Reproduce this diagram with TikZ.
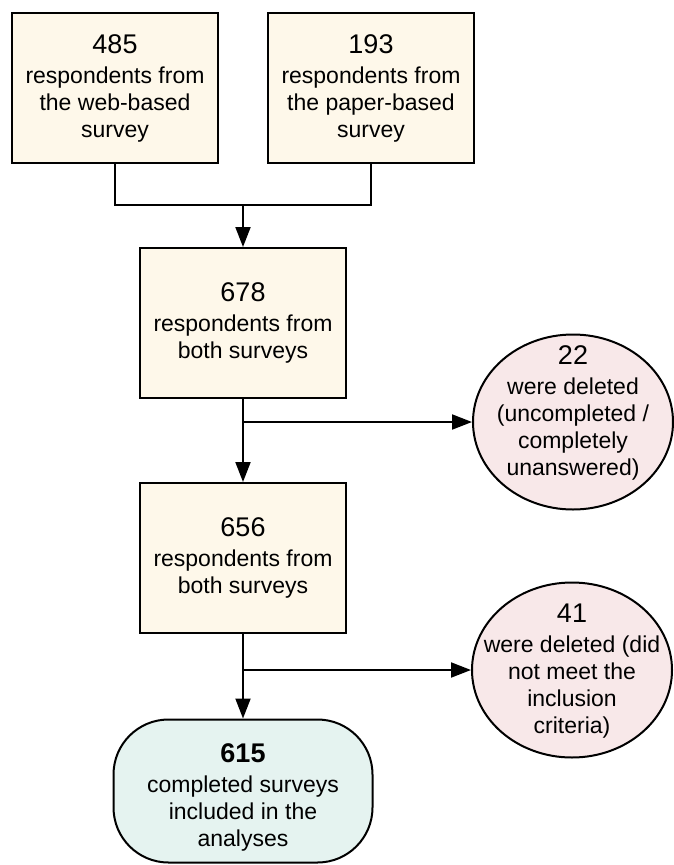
\documentclass[tikz,border=0pt]{standalone}
\usepackage{fontspec}
\setmainfont{Liberation Sans}
\usetikzlibrary{arrows.meta,shapes.geometric}

\definecolor{boxfill}{RGB}{254,248,234}
\definecolor{delfill}{RGB}{248,232,233}
\definecolor{endfill}{RGB}{229,243,240}

\newcommand{\num}[1]{{\fontsize{27}{31}\selectfont #1}\\[3pt]}

\tikzset{
  stepbox/.style={draw,line width=2pt,fill=boxfill,minimum width=206pt,minimum height=150pt,
    inner sep=0pt,align=center,font=\fontsize{23}{27}\selectfont},
  delnode/.style={draw,line width=2pt,fill=delfill,ellipse,minimum width=200pt,minimum height=175pt,inner sep=0pt},
  deltext/.style={align=center,font=\fontsize{23}{27}\selectfont},
  endnode/.style={draw,line width=2pt,fill=endfill,rounded corners=55pt,minimum width=259pt,minimum height=143pt,
    inner sep=0pt,align=center,font=\fontsize{23}{27}\selectfont},
  link/.style={line width=2pt},
  arr/.style={line width=2pt,-{Triangle[length=20pt,width=15pt]}}
}

\begin{document}
\begin{tikzpicture}[x=1pt,y=-1pt]
\useasboundingbox (0,0) rectangle (673,865);

\node[stepbox] (web) at (115,88) {\num{485}respondents from\\the web-based\\survey};
\node[stepbox] (paper) at (371,88) {\num{193}respondents from\\the paper-based\\survey};
\node[stepbox] (both) at (243,323) {\num{678}respondents from\\both surveys};
\node[stepbox] (clean) at (243,558) {\num{656}respondents from\\both surveys};
\node[endnode] (final) at (243,791) {};
\node[deltext] (finalt) at (243,797) {{\fontsize{27}{31}\selectfont\bfseries 615}\\[3pt]completed surveys\\included in the\\analyses};

\node[delnode] (del1) at (573,422) {};
\node[deltext] (del1t) at (573,413) {\num{22}were deleted\\(uncompleted /\\completely\\unanswered)};
\node[delnode] (del2) at (572,670) {};
\node[deltext] (del2t) at (572,671) {\num{41}were deleted (did\\not meet the\\inclusion\\criteria)};

% merge the two surveys
\coordinate (join) at (243,205);
\draw[link] (web.south) |- (join);
\draw[link] (paper.south) |- (join);
\draw[arr] (join) -- (both.north);

% first exclusion
\coordinate (cut1) at (243,422);
\draw[arr] (both.south) -- (clean.north);
\draw[arr] (cut1) -- (del1.west);

% second exclusion
\coordinate (cut2) at (243,670);
\draw[arr] (clean.south) -- (final.north);
\draw[arr] (cut2) -- (del2.west);
\end{tikzpicture}
\end{document}
